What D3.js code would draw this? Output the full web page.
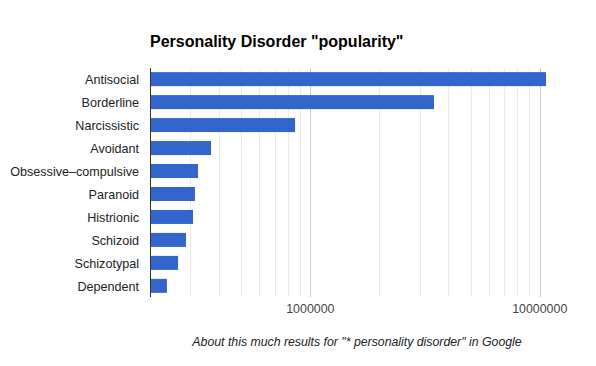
<!DOCTYPE html>
<html lang="en">
    <head>
        <meta charset="utf-8">
        <title>Personality Disorder popularity</title>
        <script type="text/javascript" src="https://d3js.org/d3.v7.min.js"></script>
        <style>
            body { margin: 0; background: #fff; }
            svg { font-family: "Liberation Sans", Arial, sans-serif; }
        </style>
    </head>
    <body>
        <script>
            // chart data
            const disorders = ["Antisocial", "Borderline", "Narcissistic", "Avoidant",
                               "Obsessive\u2013compulsive", "Paranoid", "Histrionic",
                               "Schizoid", "Schizotypal", "Dependent"];
            const results = [10650000, 3460000, 858000, 369000, 324000,
                             314000, 308000, 287000, 265000, 237000];
            const tickValues = [1000000, 10000000];

            const w = 596;
            const h = 366;
            const plotLeft = 150, plotRight = 546, plotTop = 68, plotBottom = 297;

            const svg = d3.select("body")
                        .append("svg")
                        .attr("width", w)
                        .attr("height", h);

            const xScale = d3.scaleLog()
                             .domain([200000, d3.max(results)])
                             .range([plotLeft, plotRight]);

            const yScale = d3.scaleBand()
                             .domain(disorders)
                             .range([plotTop, plotBottom])
                             .paddingInner(0.39)
                             .paddingOuter(0.18);

            // gridlines, minor light and decades darker
            const grid = xScale.ticks().filter(function(d) { return d > 200000; });
            svg.selectAll("line.grid")
               .data(grid)
               .enter()
               .append("line")
               .attr("class", "grid")
               .attr("x1", function(d) { return Math.round(xScale(d)) + 0.5; })
               .attr("x2", function(d) { return Math.round(xScale(d)) + 0.5; })
               .attr("y1", plotTop)
               .attr("y2", plotBottom)
               .attr("stroke", function(d) { return tickValues.includes(d) ? "#cccccc" : "#ebebeb"; });

            // bars
            svg.selectAll("rect")
               .data(results)
               .enter()
               .append("rect")
               .attr("x", plotLeft)
               .attr("y", function(d, i) { return yScale(disorders[i]); })
               .attr("width", function(d) { return xScale(d) - plotLeft; })
               .attr("height", yScale.bandwidth())
               .attr("fill", "#3366cc");

            // axis line
            svg.append("line")
               .attr("x1", plotLeft + 0.5).attr("x2", plotLeft + 0.5)
               .attr("y1", plotTop).attr("y2", plotBottom)
               .attr("stroke", "#333");

            // category labels
            svg.selectAll("text.cat")
               .data(disorders)
               .enter()
               .append("text")
               .attr("class", "cat")
               .text(function(d) { return d; })
               .attr("x", 139)
               .attr("y", function(d) { return yScale(d) + yScale.bandwidth() / 2 + 0.5; })
               .attr("dy", "0.35em")
               .attr("text-anchor", "end")
               .attr("font-size", "12.6px")
               .attr("fill", "#222");

            // x tick labels
            svg.selectAll("text.tick")
               .data(tickValues)
               .enter()
               .append("text")
               .attr("class", "tick")
               .text(function(d) { return d3.format("d")(d); })
               .attr("x", function(d) { return xScale(d); })
               .attr("y", 313)
               .attr("text-anchor", "middle")
               .attr("font-size", "12.4px")
               .attr("fill", "#444");

            // title
            svg.append("text")
               .text("Personality Disorder \"popularity\"")
               .attr("x", 150)
               .attr("y", 47)
               .attr("font-size", "16px")
               .attr("font-weight", "bold")
               .attr("fill", "#000");

            // axis title
            svg.append("text")
               .text("About this much results for \"* personality disorder\" in Google")
               .attr("x", 357)
               .attr("y", 346)
               .attr("text-anchor", "middle")
               .attr("font-size", "12.3px")
               .attr("font-style", "italic")
               .attr("fill", "#222");
        </script>
    </body>
</html>
